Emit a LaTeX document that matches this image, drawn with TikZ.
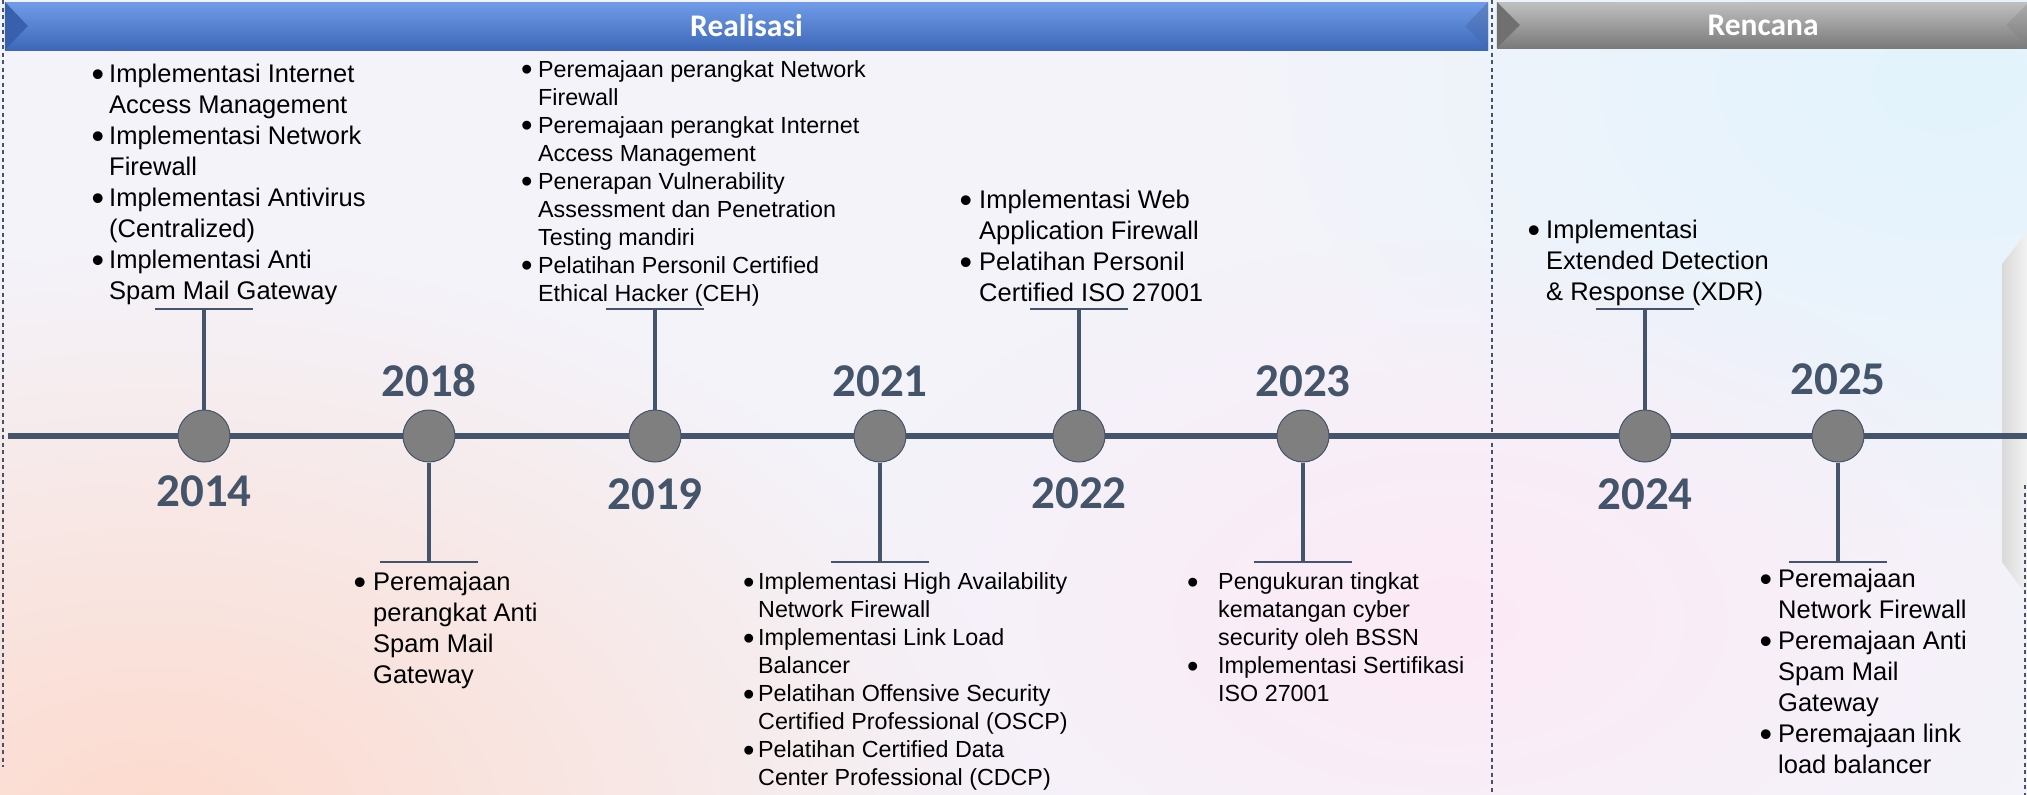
\documentclass[tikz,border=0pt]{standalone}
\usepackage{fontspec}
\setmainfont{Liberation Sans}
\newfontfamily\calibri{Carlito}
\usetikzlibrary{positioning, fadings}
\definecolor{slate}{RGB}{68, 84, 106}
\definecolor{dotgray}{RGB}{127, 127, 127}
\definecolor{bgbase}{RGB}{244, 243, 250}
\definecolor{peachglow}{RGB}{253, 218, 205}
\definecolor{skyglow}{RGB}{226, 244, 253}
\definecolor{pinkglow}{RGB}{252, 234, 246}
\definecolor{bluetop}{RGB}{112, 156, 232}
\definecolor{bluemid}{RGB}{70, 116, 198}
\definecolor{bluebot}{RGB}{61, 104, 184}
\definecolor{blueleft}{RGB}{56, 96, 172}
\definecolor{greytop}{RGB}{192, 192, 192}
\definecolor{greymid}{RGB}{138, 138, 138}
\definecolor{greybot}{RGB}{122, 122, 122}
\definecolor{greyleft}{RGB}{112, 112, 112}
\tikzfading[name=softglow, inner color=transparent!0, outer color=transparent!100]
\newcommand{\blt}{\raisebox{-0.14em}{\scalebox{1.4}{\textbullet}}}

\begin{document}
\begin{tikzpicture}[x=1pt, y=-1pt,
  axis/.style={draw=slate, line width=6pt},
  stem/.style={draw=slate, line width=4.5pt},
  tick/.style={draw=slate, line width=1.8pt},
  dot/.style={circle, draw=slate, line width=1pt, fill=dotgray, minimum size=52pt, inner sep=0pt},
  year/.style={text=slate, inner sep=0pt, font=\calibri\bfseries\fontsize{47}{47}\selectfont},
  itembig/.style={inner sep=0pt, font=\fontsize{25.5}{31}\selectfont},
  itemsmall/.style={inner sep=0pt, font=\fontsize{23.3}{28}\selectfont},
  divider/.style={draw=slate, line width=1.2pt, dash pattern=on 4pt off 3.5pt},
  banner/.style={inner sep=0pt, text=white, font=\calibri\bfseries\fontsize{31.5}{32}\selectfont}
]
  \useasboundingbox (0,0) rectangle (2027,795);
  \clip (0,0) rectangle (2027,795);

  % background
  \fill[bgbase] (0,0) rectangle (2027,795);
  \fill[peachglow, path fading=softglow] (150,830) ellipse [x radius=880, y radius=580];
  \fill[skyglow, path fading=softglow] (1950,80) ellipse [x radius=700, y radius=480];
  \fill[pinkglow, path fading=softglow] (1450,620) ellipse [x radius=620, y radius=380];
  \shade[left color=gray!30, right color=gray!10] (2002,264) -- (2027,232) -- (2027,596) -- (2002,562) -- cycle;

  % banners
  \node[banner, minimum width=1483pt, minimum height=48pt, top color=bluetop, middle color=bluemid, bottom color=bluebot] (realisasi) at (746.5,26) {};
  \fill[blueleft] (realisasi.north west) -- ([xshift=23pt]realisasi.west) -- (realisasi.south west) -- cycle;
  \shade[top color=bluetop!85!black, bottom color=bluebot] (realisasi.north east) -- ([xshift=-23pt]realisasi.east) -- (realisasi.south east) -- cycle;
  \node[banner] at (realisasi) {Realisasi};
  \node[banner, minimum width=532pt, minimum height=46pt, top color=greytop, middle color=greymid, bottom color=greybot] (rencana) at (1763,25) {};
  \fill[greyleft] (rencana.north west) -- ([xshift=23pt]rencana.west) -- (rencana.south west) -- cycle;
  \shade[top color=greytop!90!black, bottom color=greybot] (rencana.north east) -- ([xshift=-23pt]rencana.east) -- (rencana.south east) -- cycle;
  \node[banner] at (rencana) {Rencana};

  % dividers
  \coordinate (d1a) at (3,0);   \coordinate (d1b) at (3,767);
  \coordinate (d2a) at (1492,0); \coordinate (d2b) at (1492,795);
  \coordinate (d3a) at (2025,485); \coordinate (d3b) at (2025,795);
  \draw[divider] (d1a) -- (d1b);
  \draw[divider] (d2a) -- (d2b);
  \draw[divider] (d3a) -- (d3b);

  % timeline
  \coordinate (tl) at (8,436);
  \coordinate (tr) at (2027,436);
  \draw[axis] (tl) -- (tr);

  \node[dot] (c2014) at (204,436) {};
  \node[dot] (c2018) at (429,436) {};
  \node[dot] (c2019) at (655,436) {};
  \node[dot] (c2021) at (880,436) {};
  \node[dot] (c2022) at (1079,436) {};
  \node[dot] (c2023) at (1303,436) {};
  \node[dot] (c2024) at (1645,436) {};
  \node[dot] (c2025) at (1838,436) {};

  \node[year, below=13pt of c2014] (y2014) {2014};
  \node[year, above=12pt of c2018] (y2018) {2018};
  \node[year, below=16pt of c2019] (y2019) {2019};
  \node[year, above=12pt of c2021] (y2021) {2021};
  \node[year, below=15pt of c2022] (y2022) {2022};
  \node[year, above=12pt of c2023] (y2023) {2023};
  \node[year, below=16pt of c2024] (y2024) {2024};
  \node[year, above=14pt of c2025] (y2025) {2025};

  % stems and ticks
  \coordinate (k2014) at (204,309);
  \coordinate (k2018) at (429,562);
  \coordinate (k2019) at (655,309);
  \coordinate (k2021) at (880,562);
  \coordinate (k2022) at (1079,309);
  \coordinate (k2023) at (1303,562);
  \coordinate (k2024) at (1645,309);
  \coordinate (k2025) at (1838,562);
  \draw[stem] (c2014) -- (k2014);
  \draw[stem] (c2018) -- (k2018);
  \draw[stem] (c2019) -- (k2019);
  \draw[stem] (c2021) -- (k2021);
  \draw[stem] (c2022) -- (k2022);
  \draw[stem] (c2023) -- (k2023);
  \draw[stem] (c2024) -- (k2024);
  \draw[stem] (c2025) -- (k2025);
  \draw[tick] ([xshift=-49pt]k2014) -- ([xshift=49pt]k2014);
  \draw[tick] ([xshift=-49pt]k2018) -- ([xshift=49pt]k2018);
  \draw[tick] ([xshift=-49pt]k2019) -- ([xshift=49pt]k2019);
  \draw[tick] ([xshift=-49pt]k2021) -- ([xshift=49pt]k2021);
  \draw[tick] ([xshift=-49pt]k2022) -- ([xshift=49pt]k2022);
  \draw[tick] ([xshift=-49pt]k2023) -- ([xshift=49pt]k2023);
  \draw[tick] ([xshift=-49pt]k2024) -- ([xshift=49pt]k2024);
  \draw[tick] ([xshift=-49pt]k2025) -- ([xshift=49pt]k2025);

  % items
  \node[itembig, anchor=south west] (t2014) at (91.5,309) {\begin{tabular}{@{}p{17.5pt}@{}l@{}}
    \blt & Implementasi Internet\\ & Access Management\\
    \blt & Implementasi Network\\ & Firewall\\
    \blt & Implementasi Antivirus\\ & (Centralized)\\
    \blt & Implementasi Anti\\ & Spam Mail Gateway
  \end{tabular}};
  \node[itembig, anchor=north west] (t2018) at (353.5,569) {\begin{tabular}{@{}p{19.5pt}@{}l@{}}
    \blt & Peremajaan\\ & perangkat Anti\\ & Spam Mail\\ & Gateway
  \end{tabular}};
  \node[itemsmall, anchor=south west] (t2019) at (521,310) {\begin{tabular}{@{}p{17pt}@{}l@{}}
    \blt & Peremajaan perangkat Network\\ & Firewall\\
    \blt & Peremajaan perangkat Internet\\ & Access Management\\
    \blt & Penerapan Vulnerability\\ & Assessment dan Penetration\\ & Testing mandiri\\
    \blt & Pelatihan Personil Certified\\ & Ethical Hacker (CEH)
  \end{tabular}};
  \node[itemsmall, anchor=north west] (t2021) at (743,570) {\begin{tabular}{@{}p{15pt}@{}l@{}}
    \blt & Implementasi High Availability\\ & Network Firewall\\
    \blt & Implementasi Link Load\\ & Balancer\\
    \blt & Pelatihan Offensive Security\\ & Certified Professional (OSCP)\\
    \blt & Pelatihan Certified Data\\ & Center Professional (CDCP)
  \end{tabular}};
  \node[itembig, anchor=south west] (t2022) at (959.5,311) {\begin{tabular}{@{}p{19.5pt}@{}l@{}}
    \blt & Implementasi Web\\ & Application Firewall\\
    \blt & Pelatihan Personil\\ & Certified ISO 27001
  \end{tabular}};
  \node[itemsmall, anchor=north west] (t2023) at (1187,570) {\begin{tabular}{@{}p{31pt}@{}l@{}}
    \blt & Pengukuran tingkat\\ & kematangan cyber\\ & security oleh BSSN\\
    \blt & Implementasi Sertifikasi\\ & ISO 27001
  \end{tabular}};
  \node[itembig, anchor=south west] (t2024) at (1527.5,310) {\begin{tabular}{@{}p{18.5pt}@{}l@{}}
    \blt & Implementasi\\ & Extended Detection\\ & \& Response (XDR)
  \end{tabular}};
  \node[itembig, anchor=north west] (t2025) at (1759.5,566) {\begin{tabular}{@{}p{18.5pt}@{}l@{}}
    \blt & Peremajaan\\ & Network Firewall\\
    \blt & Peremajaan Anti\\ & Spam Mail\\ & Gateway\\
    \blt & Peremajaan link\\ & load balancer
  \end{tabular}};
\end{tikzpicture}
\end{document}
